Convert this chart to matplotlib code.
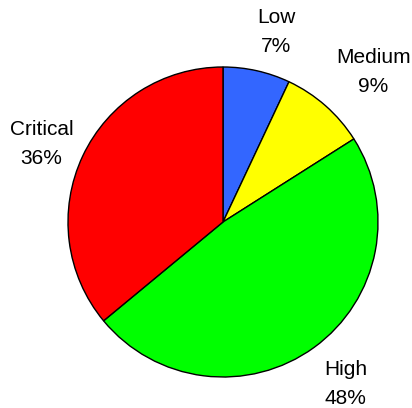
import matplotlib
matplotlib.use("Agg")
import matplotlib.pyplot as plt

categories = ["Low", "Medium", "High", "Critical"]
shares = [7, 9, 48, 36]
colors = ["#3366ff", "#ffff00", "#00ff00", "#ff0000"]

plt.rcParams["font.family"] = ["Liberation Sans", "DejaVu Sans"]

fig = plt.figure(figsize=(4.12, 4.08), dpi=100)
ax = fig.add_axes([0, 0, 1, 1])
ax.set_xlim(0, 412)
ax.set_ylim(0, 408)
ax.set_aspect("equal")
ax.axis("off")

labels = [f"{c}\n{v}%" for c, v in zip(categories, shares)]
wedges, texts = ax.pie(
    shares,
    colors=colors,
    labels=labels,
    startangle=90,
    counterclock=False,
    center=(223, 186),
    radius=155,
    labeldistance=1.3,
    frame=True,
    wedgeprops=dict(edgecolor="black", linewidth=1.0),
    textprops=dict(fontsize=15, linespacing=1.65),
)
# small per-label nudges so the labels sit clear of the rim
nudges = [(9, -7), (17, -1), (4, 1), (1, -8)]
for t, (dx, dy) in zip(texts, nudges):
    x, y = t.get_position()
    t.set_position((x + dx, y + dy))
    t.set_horizontalalignment("center")
    t.set_verticalalignment("center")

ax.set_xlim(0, 412)
ax.set_ylim(0, 408)
ax.axis("off")

fig.savefig("out.png", dpi=100)
